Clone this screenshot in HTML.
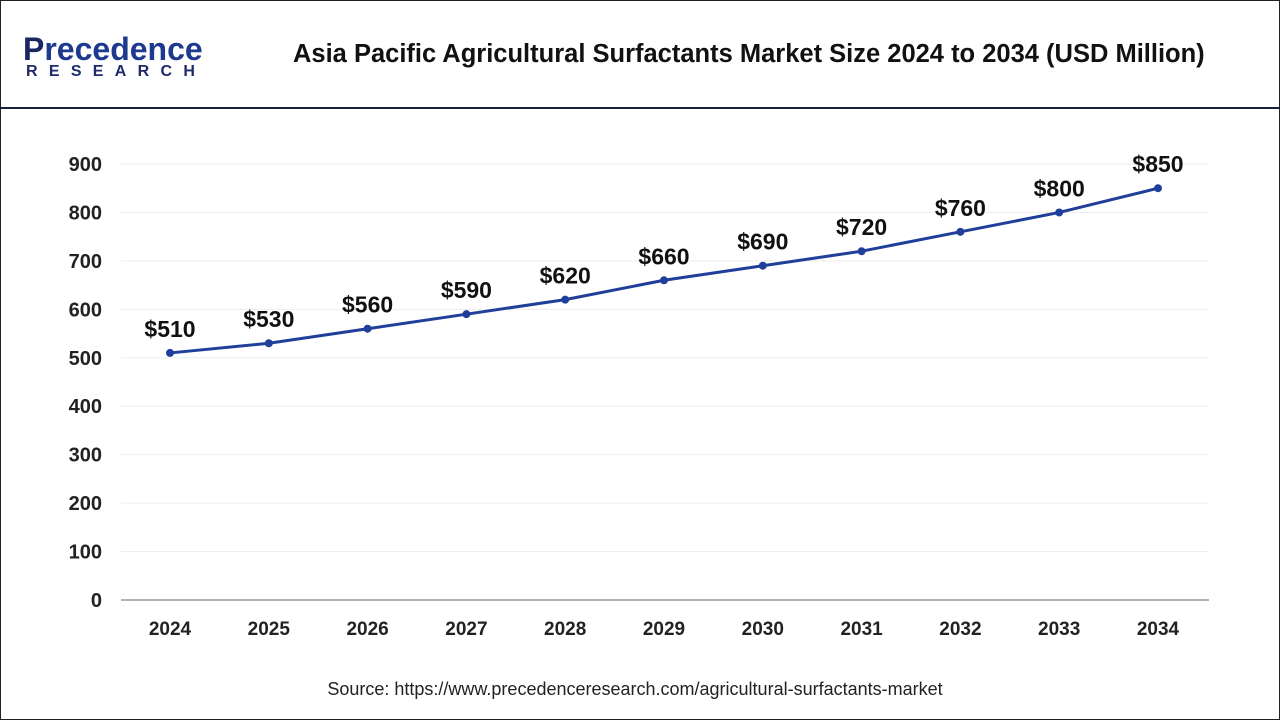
<!DOCTYPE html>
<html><head><meta charset="utf-8"><style>
html,body{margin:0;padding:0;background:#fff}
#wrap{position:relative;width:1278px;height:718px;border:1px solid #222;overflow:hidden;font-family:"Liberation Sans",sans-serif}
#hdr{position:absolute;left:0;top:0;width:1278px;height:106px;border-bottom:2px solid #1a1f3a}
#title{position:absolute;left:292px;top:39px;font-size:25.5px;font-weight:bold;color:#111;white-space:nowrap}
#logo1{position:absolute;left:22px;top:30px;font-size:32px;font-weight:bold;color:#1d3a8f}
#logo2{position:absolute;left:25px;top:62px;font-size:16px;font-weight:bold;color:#1d2a6b;letter-spacing:11.3px}
#src{position:absolute;left:0;width:1268px;top:678px;text-align:center;font-size:18px;color:#222}
</style></head><body>
<div id="wrap">
<div id="hdr">
<div id="logo1"><span style="color:#1b2561">P</span>recedence</div>
<div id="logo2">RESEARCH</div>
<div id="title">Asia Pacific Agricultural Surfactants Market Size 2024 to 2034 (USD Million)</div>
</div>
<svg id="chart" width="1278" height="718" style="position:absolute;left:0;top:0"></svg>
<div id="src">Source: https://www.precedenceresearch.com/agricultural-surfactants-market</div>
</div>
<script>
const years=["2024","2025","2026","2027","2028","2029","2030","2031","2032","2033","2034"];
const values=[510,530,560,590,620,660,690,720,760,800,850];
const yTicks=[0,100,200,300,400,500,600,700,800,900];
const svg=document.getElementById('chart');
const NS='http://www.w3.org/2000/svg';
const x0=120,x1=1208,y0=599,yTop=163;
function xs(i){return 169+i*98.8;}
function ys(v){return y0-(v/900)*(y0-yTop);}
function mk(t,a,txt){const e=document.createElementNS(NS,t);for(const k in a)e.setAttribute(k,a[k]);if(txt!==undefined)e.textContent=txt;svg.appendChild(e);return e;}
yTicks.forEach(v=>{
 const g=mk('line',{x1:x0,x2:x1,y1:ys(v),y2:ys(v),stroke:v===0?'#999':'#eee','stroke-width':v===0?1.5:1});
 
 
 const t=mk('text',{x:101,y:ys(v)+7,'text-anchor':'end','font-size':20,'font-weight':'bold',fill:'#222'},v);
 
 
});
years.forEach((y,i)=>{
 const t=mk('text',{x:xs(i),y:634,'text-anchor':'middle','font-size':19,'font-weight':'bold',fill:'#222'},y);
 
 
});
const pts=values.map((v,i)=>xs(i)+','+ys(v)).join(' ');
const pl=mk('polyline',{points:pts,fill:'none',stroke:'#1f3f9a','stroke-width':3});


values.forEach((v,i)=>{
 const c=mk('circle',{cx:xs(i),cy:ys(v),r:4,fill:'#1f3f9a'});
 
 
 const t=mk('text',{x:xs(i),y:ys(v)-16,'text-anchor':'middle','font-size':23,'font-weight':'bold',fill:'#111'},'$'+v);
 
 
});
</script>
</body></html>
